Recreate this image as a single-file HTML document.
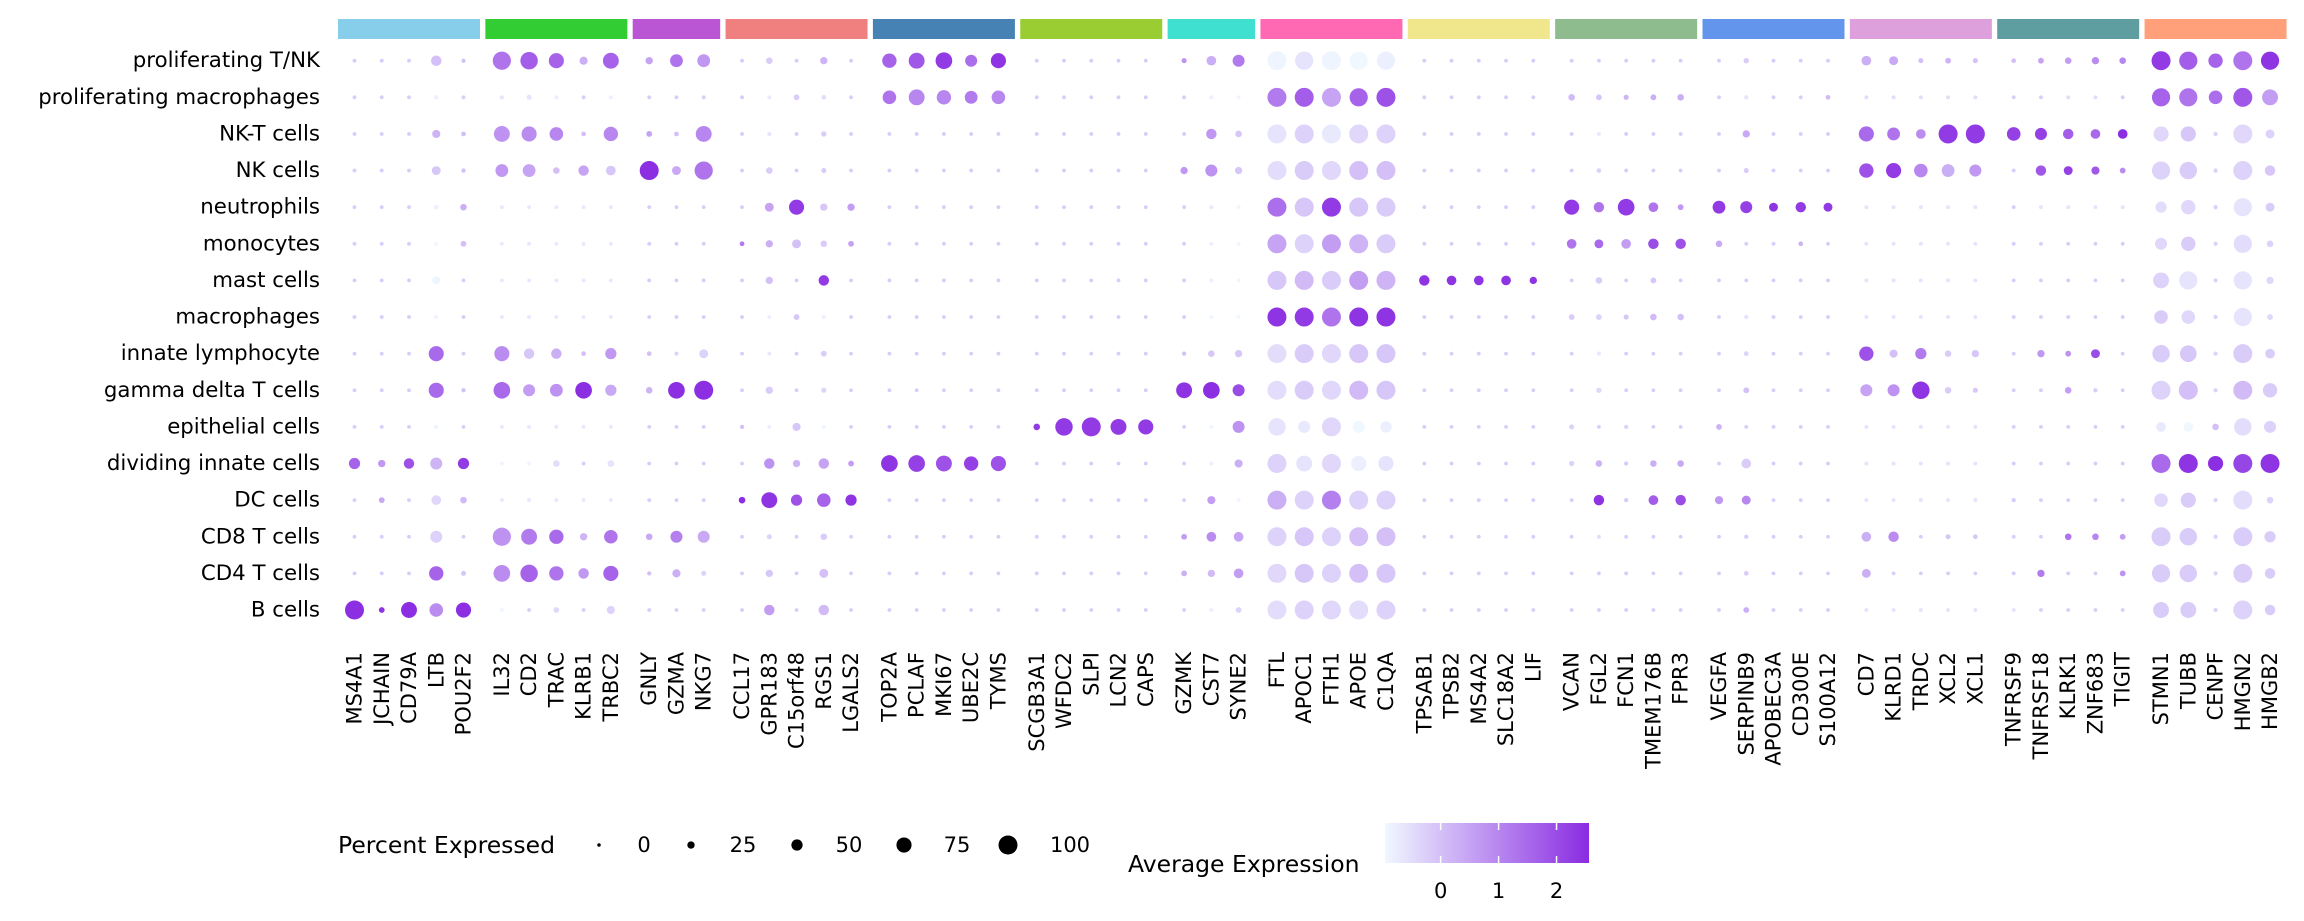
<!DOCTYPE html>
<html><head><meta charset="utf-8"><style>
html,body{margin:0;padding:0;background:#fff;}
svg{display:block;font-family:"DejaVu Sans","Liberation Sans",sans-serif;}
</style></head><body>
<svg id="chart" width="2304" height="921" viewBox="0 0 2304 921" xmlns="http://www.w3.org/2000/svg">
<defs><linearGradient id="cg" x1="0" x2="1" y1="0" y2="0"><stop offset="0" stop-color="#f0f8ff"/><stop offset="1" stop-color="#8a2be2"/></linearGradient></defs>
<g id="bars"></g><g id="rowlabels"></g><g id="dots"></g><g id="xlabels"></g>
<g id="legend">
<text x="338" y="845" font-size="23.5" dominant-baseline="central">Percent Expressed</text>
<g id="sizeleg"></g>
<text x="1128" y="864" font-size="23.5" dominant-baseline="central">Average Expression</text>
<rect x="1385" y="823" width="204" height="40" fill="url(#cg)"/>
<g id="cticks"></g>
</g>
</svg>
<script>
const groups = [["MS4A1","JCHAIN","CD79A","LTB","POU2F2"],["IL32","CD2","TRAC","KLRB1","TRBC2"],["GNLY","GZMA","NKG7"],["CCL17","GPR183","C15orf48","RGS1","LGALS2"],["TOP2A","PCLAF","MKI67","UBE2C","TYMS"],["SCGB3A1","WFDC2","SLPI","LCN2","CAPS"],["GZMK","CST7","SYNE2"],["FTL","APOC1","FTH1","APOE","C1QA"],["TPSAB1","TPSB2","MS4A2","SLC18A2","LIF"],["VCAN","FGL2","FCN1","TMEM176B","FPR3"],["VEGFA","SERPINB9","APOBEC3A","CD300E","S100A12"],["CD7","KLRD1","TRDC","XCL2","XCL1"],["TNFRSF9","TNFRSF18","KLRK1","ZNF683","TIGIT"],["STMN1","TUBB","CENPF","HMGN2","HMGB2"]];
const groupColors = ["#87ceeb","#32cd32","#ba55d3","#f08080","#4682b4","#9acd32","#40e0d0","#ff69b4","#f0e68c","#8fbc8f","#6495ed","#dda0dd","#5f9ea0","#ffa07a"];
const cellTypes = ["proliferating T/NK","proliferating macrophages","NK-T cells","NK cells","neutrophils","monocytes","mast cells","macrophages","innate lymphocyte","gamma delta T cells","epithelial cells","dividing innate cells","DC cells","CD8 T cells","CD4 T cells","B cells"];
const pct = [
[2,2,2,45,5, 95,90,75,30,80, 25,60,60, 2,20,2,25,2, 70,80,85,55,75, 2,2,2,2,2, 10,40,55, 100,95,100,95,95, 2,2,2,2,2, 2,2,2,2,2, 2,12,2,2,2, 40,35,10,15,10, 8,15,20,25,20, 100,95,70,100,95],
[2,2,2,5,2, 3,10,3,2,3, 2,2,2, 2,3,15,8,2, 65,80,70,60,65, 2,2,2,2,2, 2,3,3, 100,100,100,95,100, 2,2,2,2,2, 20,15,10,15,20, 2,5,2,2,8, 3,3,3,3,3, 2,2,3,3,2, 95,95,65,100,80],
[2,2,2,30,8, 80,75,65,8,70, 15,8,80, 2,3,2,12,2, 2,2,2,2,2, 2,2,2,2,2, 2,45,20, 100,100,100,100,100, 2,2,2,2,2, 2,3,2,2,2, 2,25,2,2,2, 75,60,40,100,100, 65,55,45,40,40, 75,75,5,100,35],
[2,2,2,35,5, 60,60,20,45,40, 100,35,95, 2,20,2,10,2, 2,2,2,2,2, 2,2,2,2,2, 25,55,25, 100,100,100,100,100, 2,2,2,2,2, 2,8,2,2,2, 2,10,2,2,2, 70,75,65,60,55, 2,45,35,30,15, 95,90,5,100,45],
[2,2,2,5,20, 3,3,3,3,3, 2,2,2, 2,35,75,25,25, 2,2,2,2,2, 2,2,2,2,2, 2,3,3, 100,100,100,100,100, 2,2,2,2,2, 75,45,85,40,15, 60,55,35,45,35, 3,3,3,3,3, 2,3,3,3,3, 50,70,5,95,35],
[2,2,2,3,15, 3,3,3,3,3, 2,2,2, 8,25,35,20,15, 2,2,2,2,2, 2,2,2,2,2, 2,3,3, 100,100,100,100,100, 2,2,2,2,2, 40,35,40,45,45, 20,2,2,8,2, 3,3,3,3,3, 2,2,2,2,2, 55,70,5,95,20],
[2,2,2,30,2, 3,3,3,3,3, 2,2,2, 2,25,2,45,2, 2,2,2,2,2, 2,2,2,2,2, 2,3,3, 100,100,100,100,100, 45,40,40,40,25, 2,20,2,15,2, 2,2,2,2,2, 3,3,3,3,3, 2,2,2,2,2, 80,95,5,95,25],
[2,2,2,5,2, 3,3,3,3,3, 2,2,2, 2,3,15,3,2, 2,2,2,2,2, 2,2,2,2,2, 2,3,3, 100,100,100,100,100, 2,2,2,2,2, 15,15,10,20,20, 2,5,2,2,2, 3,3,3,3,3, 2,2,2,2,2, 65,65,5,95,15],
[2,2,2,75,2, 75,45,45,8,50, 8,3,35, 2,3,2,15,2, 2,2,2,2,2, 2,2,2,2,2, 5,20,25, 100,100,100,100,100, 2,2,2,2,2, 2,5,2,2,2, 2,8,2,2,2, 70,30,50,20,25, 2,25,15,35,2, 90,85,5,100,40],
[2,2,2,75,5, 85,55,60,85,50, 20,85,100, 2,25,2,10,2, 2,2,2,2,2, 2,2,2,2,2, 80,85,55, 100,100,100,100,100, 2,2,2,2,2, 2,12,2,2,2, 2,15,2,2,2, 55,55,90,20,10, 2,2,20,5,2, 100,100,5,100,70],
[2,2,2,5,2, 3,3,3,3,3, 2,2,2, 5,3,30,3,2, 2,2,2,2,2, 20,90,100,80,75, 2,3,55, 90,55,100,55,50, 2,2,2,2,2, 10,2,5,2,2, 15,2,2,2,2, 3,3,3,3,3, 2,2,2,2,2, 40,40,20,90,55],
[50,25,45,55,50, 3,3,20,2,20, 2,2,2, 2,45,25,45,15, 85,85,80,70,75, 2,2,2,2,2, 2,3,30, 100,80,100,75,75, 2,2,2,2,2, 12,20,5,20,20, 2,40,2,2,2, 3,3,3,3,3, 2,2,2,2,2, 100,100,75,100,100],
[2,15,2,40,20, 3,3,3,3,3, 2,2,2, 20,80,50,65,50, 2,2,2,2,2, 2,2,2,2,2, 2,30,3, 100,100,100,100,100, 2,2,2,2,2, 2,45,5,40,45, 30,35,2,2,2, 3,3,3,3,3, 5,2,2,2,2, 65,75,5,100,20],
[2,2,2,55,2, 95,80,70,25,65, 20,55,55, 2,10,2,20,2, 2,2,2,2,2, 2,2,2,2,2, 15,40,40, 100,100,100,100,100, 2,2,2,2,2, 2,3,2,2,2, 2,5,2,2,2, 40,45,2,10,8, 2,2,20,20,15, 100,90,5,100,50],
[2,2,2,70,10, 85,90,70,45,75, 5,30,10, 2,25,2,35,2, 2,2,2,2,2, 2,2,2,2,2, 15,25,40, 100,100,100,100,100, 2,2,2,2,2, 2,2,2,2,2, 2,8,2,2,2, 35,2,2,2,2, 2,25,2,2,15, 95,90,5,100,45],
[100,15,80,65,75, 3,2,15,2,30, 2,2,2, 2,45,2,45,2, 2,2,2,2,2, 2,2,2,2,2, 2,3,15, 100,100,100,100,100, 2,2,2,2,2, 2,2,2,2,2, 2,15,2,2,2, 3,3,3,3,3, 3,2,2,2,2, 80,80,5,100,45]
];
const expr = [
[-.2,-.2,-.2,0,0, 1.3,1.7,1.6,.3,1.6, .5,1.3,.7, -.2,-.2,-.2,.2,-.2, 1.6,1.8,2.3,1.4,2.4, -.2,-.2,-.2,-.2,-.2, .8,.3,1.2, -.9,-.6,-.9,-1,-.8, -.2,-.2,-.2,-.2,-.2, -.2,-.2,-.2,-.2,-.2, -.2,-.2,-.2,-.2,-.2, .3,.4,0,.2,0, 0,.5,.6,.9,1, 2.3,1.7,1.6,1.3,2.4],
[-.2,-.2,-.2,-.8,-.2, -.6,-.6,-.8,-.2,-.8, -.2,-.2,-.2, -.2,-.7,-.2,-.5,-.2, 1.3,1,1,1.2,1, -.2,-.2,-.2,-.2,-.2, -.2,-.8,-.9, 1.2,1.7,.5,1.6,1.9, -.2,-.2,-.2,-.2,-.2, .1,-.1,.2,.3,.3, -.2,-.6,-.2,-.2,.1, -.5,-.5,-.5,-.5,-.5, -.2,-.2,-.5,-.5,-.2, 1.6,1.3,1.4,1.8,.6],
[-.2,-.2,-.2,.2,0, .8,.9,1,0,1, .5,0,1, -.2,-.6,-.2,-.2,-.2, -.2,-.2,-.2,-.2,-.2, -.2,-.2,-.2,-.2,-.2, -.2,.7,-.1, -.6,-.3,-.7,-.4,-.3, -.2,-.2,-.2,-.2,-.2, -.2,-.7,-.2,-.2,-.2, -.2,.4,-.2,-.2,-.2, 1.5,1.3,.9,2.3,2.3, 2.2,2.2,1.7,1.5,2.5, -.4,-.1,-.3,-.4,-.3],
[-.2,-.2,-.2,-.1,0, .7,.5,0,.5,-.1, 2.5,.4,1.3, -.2,-.2,-.2,-.2,-.2, -.2,-.2,-.2,-.2,-.2, -.2,-.2,-.2,-.2,-.2, .7,.8,-.1, -.5,-.2,-.4,0,0, -.2,-.2,-.2,-.2,-.2, -.2,-.3,-.2,-.2,-.2, -.2,-.2,-.2,-.2,-.2, 1.9,2.3,1,.3,.7, -.2,1.8,2.2,1.8,.9, -.3,-.2,-.3,-.3,-.1],
[-.2,-.2,-.2,-.8,.3, -.7,-.7,-.7,-.7,-.7, -.2,-.2,-.2, -.2,.5,2.3,-.1,.6, -.2,-.2,-.2,-.2,-.2, -.2,-.2,-.2,-.2,-.2, -.2,-.7,-.9, 1.4,-.1,2.3,-.1,-.2, -.2,-.2,-.2,-.2,-.2, 2.3,1.3,2.3,1.3,.7, 2.3,2.2,2.4,2.3,2.3, -.6,-.6,-.6,-.6,-.6, -.2,-.6,-.6,-.6,-.6, -.5,-.4,-.3,-.6,-.2],
[-.2,-.2,-.2,-.9,0, -.7,-.7,-.7,-.7,-.7, -.2,-.2,-.2, 1.2,.3,0,-.2,.5, -.2,-.2,-.2,-.2,-.2, -.2,-.2,-.2,-.2,-.2, -.2,-.8,-.9, .5,-.3,.6,.2,-.2, -.2,-.2,-.2,-.2,-.2, 1.3,1.5,.6,2,1.9, .4,-.2,-.2,.2,-.2, -.6,-.6,-.6,-.6,-.6, -.2,-.2,-.2,-.2,-.2, -.4,-.2,-.3,-.5,-.3],
[-.2,-.2,-.2,-.9,-.2, -.7,-.7,-.7,-.7,-.7, -.2,-.2,-.2, -.2,0,-.2,2.3,-.2, -.2,-.2,-.2,-.2,-.2, -.2,-.2,-.2,-.2,-.2, -.2,-.8,-.9, -.1,.1,-.2,.6,.2, 2.4,2.4,2.4,2.4,2.4, -.2,-.2,-.2,-.1,-.2, -.2,-.2,-.2,-.2,-.2, -.6,-.6,-.6,-.6,-.6, -.2,-.2,-.2,-.2,-.2, -.3,-.6,-.3,-.6,-.4],
[-.2,-.2,-.2,-.9,-.2, -.7,-.7,-.7,-.7,-.7, -.2,-.2,-.2, -.2,-.8,-.1,-.8,-.2, -.2,-.2,-.2,-.2,-.2, -.2,-.2,-.2,-.2,-.2, -.2,-.9,-1, 2.4,2.3,1.3,2.4,2.4, -.2,-.2,-.2,-.2,-.2, -.2,-.3,-.1,.1,0, -.2,-.6,-.2,-.2,-.2, -.6,-.6,-.6,-.6,-.6, -.2,-.2,-.2,-.2,-.2, -.2,-.4,-.3,-.6,-.4],
[-.2,-.2,-.2,1.5,-.2, .9,-.1,.3,0,.7, 0,-.3,-.3, -.2,-.7,-.2,-.2,-.2, -.2,-.2,-.2,-.2,-.2, -.2,-.2,-.2,-.2,-.2, 0,-.1,-.1, -.5,-.2,-.4,-.1,-.1, -.2,-.2,-.2,-.2,-.2, -.2,-.7,-.2,-.2,-.2, -.2,-.3,-.2,-.2,-.2, 1.9,0,1.2,-.2,-.1, -.2,.7,.8,2,-.2, -.2,-.1,-.3,-.2,-.2],
[-.2,-.2,-.2,1.5,0, 1.5,.6,.8,2.5,.4, .2,2.5,2.5, -.2,-.2,-.2,-.3,-.2, -.2,-.2,-.2,-.2,-.2, -.2,-.2,-.2,-.2,-.2, 2.4,2.5,2, -.5,-.2,-.4,.1,-.1, -.2,-.2,-.2,-.2,-.2, -.2,-.4,-.2,-.2,-.2, -.2,0,-.2,-.2,-.2, .5,.8,2.4,-.2,-.1, -.2,-.2,.6,-.2,-.2, -.3,0,-.3,.1,-.2],
[-.2,-.2,-.2,-.9,-.2, -.7,-.7,-.7,-.7,-.7, -.2,-.2,-.2, 0,-.8,-.1,-.9,-.2, -.2,-.2,-.2,-.2,-.2, 2.3,2.3,2.3,2.3,2.3, -.2,-.9,.8, -.6,-.7,-.4,-1,-.8, -.2,-.2,-.2,-.2,-.2, -.3,-.2,-.3,-.2,-.2, .2,-.2,-.2,-.2,-.2, -.6,-.6,-.6,-.6,-.6, -.2,-.2,-.2,-.2,-.2, -.7,-1,0,-.5,-.3],
[1.6,.7,1.9,.2,2.3, -.9,-.9,-.5,-.2,-.6, -.2,-.2,-.2, -.2,.8,.2,.5,.6, 2.4,2.2,1.9,2.2,1.9, -.2,-.2,-.2,-.2,-.2, -.2,-.8,.3, -.3,-.6,-.4,-.8,-.6, -.2,-.2,-.2,-.2,-.2, -.3,.2,-.2,.3,.4, -.2,-.2,-.2,-.2,-.2, -.6,-.6,-.6,-.6,-.6, -.2,-.2,-.2,-.2,-.2, 1.5,2.4,2.5,2.1,2.4],
[-.2,.4,-.2,-.4,.1, -.7,-.7,-.7,-.7,-.7, -.2,-.2,-.2, 2.5,2.4,1.9,1.6,2.4, -.2,-.2,-.2,-.2,-.2, -.2,-.2,-.2,-.2,-.2, -.2,.6,-.9, .3,-.3,1.1,-.3,-.3, -.2,-.2,-.2,-.2,-.2, -.2,2.4,-.2,1.7,2, .7,1,-.2,-.2,-.2, -.6,-.6,-.6,-.6,-.6, -.2,-.2,-.2,-.2,-.2, -.4,-.2,-.3,-.5,-.3],
[-.2,-.2,-.2,-.3,-.2, .8,1.2,1.5,.2,1.3, .4,1.1,.4, -.2,-.3,-.2,-.2,-.2, -.2,-.2,-.2,-.2,-.2, -.2,-.2,-.2,-.2,-.2, .6,.9,.5, -.3,-.1,-.3,0,0, -.2,-.2,-.2,-.2,-.2, -.2,-.5,-.2,-.2,-.2, -.2,-.2,-.2,-.2,-.2, .3,.9,-.2,-.1,-.1, -.2,-.2,1.3,1,.6, -.2,-.2,-.3,-.2,-.2],
[-.2,-.2,-.2,1.6,-.1, .9,1.6,1.3,.7,1.6, 0,.3,-.3, -.2,-.1,-.2,0,-.2, -.2,-.2,-.2,-.2,-.2, -.2,-.2,-.2,-.2,-.2, .3,.1,.6, -.4,-.1,-.3,0,-.1, -.2,-.2,-.2,-.2,-.2, -.2,-.2,-.2,-.2,-.2, -.2,-.2,-.2,-.2,-.2, .3,-.2,-.2,-.2,-.2, -.2,1.2,-.2,-.2,.8, -.2,-.2,-.3,-.2,-.2],
[2.5,2.4,2.5,.9,2.5, -.9,-.2,-.4,-.2,-.3, -.2,-.2,-.2, -.2,.6,-.2,.1,-.2, -.2,-.2,-.2,-.2,-.2, -.2,-.2,-.2,-.2,-.2, -.2,-.8,-.3, -.5,-.3,-.4,-.5,-.3, -.2,-.2,-.2,-.2,-.2, -.2,-.2,-.2,-.2,-.2, -.2,.3,-.2,-.2,-.2, -.6,-.6,-.6,-.6,-.6, -.6,-.2,-.2,-.2,-.2, -.2,-.2,-.3,-.3,-.2]
];
const legendPcts = [0,25,50,75,100];
const colorTicks = [0,1,2];

const NS="http://www.w3.org/2000/svg";
const VMIN=-0.96, VMAX=2.56;
function mk(tag,attrs,parent){const e=document.createElementNS(NS,tag);for(const k in attrs)e.setAttribute(k,attrs[k]);parent.appendChild(e);return e;}
function xCol(c,g){return 354.5+27.25*c+11.1*g;}
function yRow(r){return 60.7+36.62*r;}
function diam(p){return 3.5+0.155*p;}
function color(v){let t=(v-VMIN)/(VMAX-VMIN);t=Math.max(0,Math.min(1,t));
 const a=[240,248,255],b=[138,43,226];return "rgb("+a.map((x,i)=>Math.round(x+(b[i]-x)*t)).join(",")+")";}
function cbX(v){return 1385+(v-VMIN)/(VMAX-VMIN)*204;}

const cols=[];
groups.forEach((g,gi)=>g.forEach(name=>cols.push({name,gi})));
const bars=document.getElementById('bars'),rl=document.getElementById('rowlabels'),dots=document.getElementById('dots'),xl=document.getElementById('xlabels');
let ci=0;
groups.forEach((g,gi)=>{
 const x0=xCol(ci,gi)-16.5,x1=xCol(ci+g.length-1,gi)+16.5;
 const r=mk('rect',{x:x0,y:19,width:x1-x0,height:20,fill:groupColors[gi]},bars);
 
 
 ci+=g.length;
});
cellTypes.forEach((ct,ri)=>{
 const t=mk('text',{x:320,y:yRow(ri),'font-size':21.3,'text-anchor':'end','dominant-baseline':'central'},rl);
 t.textContent=ct;
 
 
});
cols.forEach((c,j)=>{
 const x=xCol(j,c.gi);
 const t=mk('text',{x:0,y:0,'font-size':21,'text-anchor':'end','dominant-baseline':'central',transform:'translate('+x+',652) rotate(-90)'},xl);
 t.textContent=c.name;
 
 
 cellTypes.forEach((ct,ri)=>{
  const p=pct[ri][j],v=expr[ri][j];
  const d=mk('circle',{cx:x,cy:yRow(ri),r:diam(p)/2,fill:color(v)},dots);
  
  
 });
});
const sl=document.getElementById('sizeleg');
const legDotX=[599,691,797,904,1008],legLblX=[644,743,849,957,1070];
legendPcts.forEach((p,i)=>{
 const c=mk('circle',{cx:legDotX[i],cy:845,r:diam(p)/2,fill:'#000'},sl);
 
 
 const t=mk('text',{x:legLblX[i],y:845,'font-size':21,'text-anchor':'middle','dominant-baseline':'central'},sl);
 t.textContent=p;
 
 
});
const ct=document.getElementById('cticks');
colorTicks.forEach(v=>{
 const x=cbX(v);
 mk('line',{x1:x,x2:x,y1:823,y2:830,stroke:'#fff','stroke-width':1.5},ct);
 mk('line',{x1:x,x2:x,y1:856,y2:863,stroke:'#fff','stroke-width':1.5},ct);
 const t=mk('text',{x:x,y:891,'font-size':21,'text-anchor':'middle','dominant-baseline':'central'},ct);
 t.textContent=v;
 
 
});
</script>
</body></html>
